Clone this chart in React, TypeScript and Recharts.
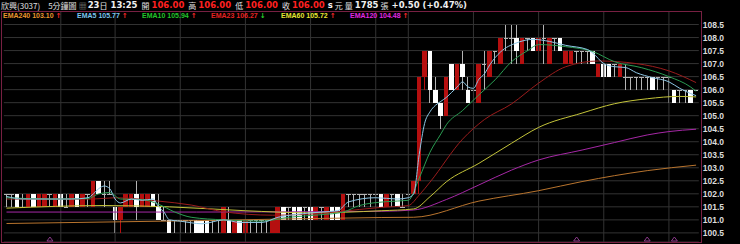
import React from "react";
import {
  ComposedChart,
  Bar,
  Line,
  XAxis,
  YAxis,
  CartesianGrid,
  ReferenceLine,
  ReferenceDot,
} from "recharts";

document.body.style.margin = "0";
document.body.style.background = "#000";

// 5-minute candles, oldest first (last part of day 1, day 2, day 3 up to 13:25)
const open = [
  102, 102, 102, 101.5, 101.5, 102, 101.5, 101.5, 102, 101.5,
  102, 101.5, 101.5, 102, 101.5, 102, 101.5, 102.5, 102, 102,
  101.5, 101, 101.5, 101.5, 102, 101.5, 101.5, 102, 101.5, 101,
  101, 101, 101, 101, 101, 101, 101, 101, 101, 101,
  100.5, 101, 100.5, 101, 100.5, 101, 101, 101, 101, 100.5,
  100.5, 101.5, 101.5, 101.5, 101.5, 101.5, 101.5, 101, 101.5, 101,
  101.5, 101.5, 101, 102, 102, 102, 102, 102, 102, 102,
  101.5, 102, 102, 101.5, 102, 102, 102.5, 106.5, 107.5, 106,
  105.5, 105, 107, 106, 107, 106, 106, 105.5, 107, 106.5,
  107.5, 107, 108, 108, 108, 107, 108, 108, 107.5, 108,
  107, 108, 108, 107, 107, 107.5, 107.5, 107.5, 107.5, 106.5,
  107, 107, 107, 106.5, 106.5, 106.5, 106.5, 106.5, 106.5, 106.5,
  106.5, 106.5, 106.5, 106, 106, 106, 106, 106,
];
const high = [
  102, 102, 102, 102, 102, 102, 102, 102, 102, 102,
  102, 102, 102, 102, 102, 102, 102.5, 102.5, 102.5, 102.5,
  101.5, 101.5, 102, 102, 102.5, 102, 102, 102, 102, 101.5,
  101, 101, 101, 101, 101, 101, 101, 101, 101, 101,
  101.5, 101.5, 101, 101, 101, 101, 101, 101, 101, 101,
  101.5, 101.5, 101.5, 101.5, 101.5, 101.5, 101.5, 101.5, 101.5, 101.5,
  101.5, 101.5, 102, 102, 102, 102, 102, 102, 102, 102,
  102, 102, 102, 102, 102.5, 102.5, 106.5, 107.5, 107.5, 106.5,
  105.5, 106.5, 107, 107, 107.5, 106.5, 106.5, 107, 107.5, 107.5,
  107.5, 108, 108.5, 108.5, 108.5, 108, 108, 108, 108, 108.5,
  108, 108, 108, 107.5, 107.5, 107.5, 107.5, 107.5, 107.5, 107,
  107, 107, 107, 107, 107, 106.5, 106.5, 106.5, 106.5, 106.5,
  106.5, 106.5, 106.5, 106, 106, 106, 106, 106,
];
const low = [
  101.5, 101.5, 101.5, 101.5, 101.5, 101.5, 101.5, 101.5, 101.5, 101.5,
  101.5, 101.5, 101.5, 101.5, 101.5, 101.5, 101.5, 102, 101.5, 102,
  100.5, 100.5, 101.5, 101.5, 101, 101.5, 101.5, 101.5, 101, 101,
  100.5, 100.5, 100.5, 100.5, 100.5, 100.5, 100.5, 100.5, 100.5, 100.5,
  100.5, 100.5, 100.5, 100.5, 100.5, 100.5, 100.5, 100.5, 100.5, 100.5,
  100.5, 101, 101, 101, 101, 101, 101, 101, 101, 101,
  101, 101, 101, 101.5, 101.5, 101.5, 101.5, 101.5, 101.5, 101.5,
  101.5, 101.5, 101.5, 101.5, 101.5, 102, 102, 106, 105.5, 105.5,
  104.5, 105, 106, 106, 106, 105.5, 105.5, 105.5, 106, 106.5,
  107, 107, 107.5, 107, 107, 107, 107.5, 107.5, 107.5, 107,
  107, 107.5, 107.5, 107, 107, 107, 107, 107, 107, 106.5,
  106.5, 106.5, 106.5, 106.5, 106, 106, 106, 106, 106, 106,
  106, 106, 105.5, 105.5, 105.5, 105.5, 105.5, 106,
];
const close = [
  102, 102, 101.5, 101.5, 102, 101.5, 102, 102, 102, 102,
  101.5, 101.5, 102, 101.5, 102, 102, 102.5, 102, 102, 102,
  101, 101.5, 102, 102, 101.5, 102, 102, 101.5, 101, 101,
  100.5, 101, 101, 101, 101, 100.5, 100.5, 100.5, 101, 101,
  101.5, 100.5, 101, 100.5, 101, 101, 101, 101, 101, 101,
  101.5, 101, 101.5, 101, 101, 101.5, 101, 101.5, 101.5, 101.5,
  101, 101, 102, 102, 102, 102, 102, 102, 102, 101.5,
  102, 102, 101.5, 101.5, 102, 102.5, 106.5, 107.5, 106, 105.5,
  105, 106.5, 106, 107, 106.5, 105.5, 106, 107, 107, 107.5,
  107.5, 108, 108, 108, 107.5, 108, 108, 107.5, 108, 108,
  108, 108, 107.5, 107.5, 107.5, 107.5, 107.5, 107.5, 107, 107,
  106.5, 106.5, 107, 107, 106.5, 106.5, 106.5, 106.5, 106.5, 106,
  106.5, 106.5, 106.5, 105.5, 106, 106, 105.5, 106,
];

// moving averages: [candle index, value]
const ema240: [number, number][] = [
  [0, 100.86], [35, 100.97], [69, 101.09], [75, 101.1], [87, 101.72],
  [98, 102.12], [106, 102.47], [118, 102.89], [127, 103.1],
];
const ema120: [number, number][] = [
  [0, 101.3], [35, 101.3], [69, 101.33], [75, 101.38], [81, 101.78],
  [87, 102.34], [93, 102.91], [98, 103.3], [106, 103.68], [112, 103.97],
  [118, 104.26], [122, 104.39], [127, 104.48],
];
const ema60: [number, number][] = [
  [0, 101.45], [18, 101.55], [30, 101.5], [44, 101.35], [56, 101.27],
  [69, 101.35], [75, 101.42], [78, 101.89], [81, 102.46], [87, 103.17],
  [93, 103.94], [98, 104.55], [106, 105.1], [112, 105.46], [118, 105.65],
  [124, 105.74], [127, 105.72],
];
const ema23: [number, number][] = [
  [0, 101.8], [16, 101.8], [20, 101.85], [28, 101.72], [34, 101.57],
  [40, 101.31], [49, 101.18], [58, 101.25], [65, 101.4], [69, 101.48],
  [74, 101.55], [76, 101.95], [78, 102.45], [84, 104.1], [88, 104.85],
  [93, 105.45], [98, 106.25], [103, 106.88], [109, 107.1], [116, 107.0],
  [122, 106.72], [127, 106.27],
];
const ema10: [number, number][] = [
  [0, 101.85], [8, 101.8], [15, 101.82], [17, 102.0], [19, 102.05],
  [21, 101.8], [25, 101.78], [28, 101.6], [31, 101.3], [34, 101.1],
  [40, 101.0], [47, 100.95], [52, 101.1], [58, 101.2], [62, 101.3],
  [65, 101.55], [70, 101.7], [74, 101.75], [76, 102.6], [78, 103.6],
  [80, 104.3], [81, 104.65], [84, 105.2], [87, 105.8], [90, 106.38],
  [93, 107.07], [96, 107.5], [98, 107.73], [103, 107.65], [108, 107.46],
  [112, 107.07], [117, 106.84], [122, 106.5], [126, 106.1], [127, 105.94],
];
const ema5: [number, number][] = [
  [0, 101.9], [3, 101.8], [6, 101.8], [9, 101.8], [12, 101.8],
  [15, 101.85], [16, 102.0], [17, 102.2], [18, 102.3], [19, 102.2],
  [20, 101.8], [21, 101.65], [23, 101.8], [25, 101.75], [27, 101.8],
  [28, 101.5], [29, 101.3], [30, 101.0], [32, 100.95], [36, 100.85],
  [40, 101.0], [43, 100.9], [47, 100.9], [50, 101.1], [53, 101.2],
  [58, 101.3], [61, 101.35], [63, 101.69], [68, 101.85], [72, 101.8],
  [74, 101.85], [75, 102.0], [76, 103.5], [77, 104.7], [78, 105.15],
  [79, 105.4], [80, 105.55], [81, 105.7], [82, 105.9], [83, 106.1],
  [84, 106.3], [85, 106.1], [86, 106.05], [87, 106.4], [88, 106.6],
  [89, 106.95], [91, 107.45], [94, 107.8], [97, 107.93], [100, 107.85],
  [103, 107.7], [107, 107.54], [108, 107.4], [110, 107.0], [112, 106.88],
  [114, 106.85], [116, 106.65], [119, 106.46], [122, 106.3], [124, 106.05],
  [126, 105.85], [127, 105.77],
];

// candles where the hour / session grid lines fall
const gridCandles = [10, 20, 32, 44, 56, 68, 74, 86, 98, 110, 122];
// little markers along the bottom edge
const markerCandles = [8, 105, 118, 123];
const priceTicks = [
  100.5, 101, 101.5, 102, 102.5, 103, 103.5, 104, 104.5, 105, 105.5, 106,
  106.5, 107, 107.5, 108, 108.5,
];

const legend = [
  { name: "EMA240", value: "103.10", color: "#e8962e", up: true, left: 3 },
  { name: "EMA5", value: "105.77", color: "#7cc4ee", up: true, left: 77 },
  { name: "EMA10", value: "105.94", color: "#22c42a", up: true, left: 142 },
  { name: "EMA23", value: "106.27", color: "#e52222", up: false, left: 211 },
  { name: "EMA60", value: "105.72", color: "#e6e632", up: true, left: 281 },
  { name: "EMA120", value: "104.48", color: "#e228e2", up: true, left: 350 },
];

const lineColors: Record<string, string> = {
  ema240: "#b8742e",
  ema120: "#a628a6",
  ema60: "#c4c43a",
  ema23: "#9a1c1c",
  ema10: "#2a9c52",
  ema5: "#8cc6e4",
};

const rows: any[] = open.map((o, i) => ({
  i,
  open: o,
  high: high[i],
  low: low[i],
  close: close[i],
  range: [low[i], high[i]],
}));
const emaSets: [string, [number, number][]][] = [
  ["ema240", ema240],
  ["ema120", ema120],
  ["ema60", ema60],
  ["ema23", ema23],
  ["ema10", ema10],
  ["ema5", ema5],
];
emaSets.forEach(([key, pts]) => pts.forEach(([i, v]) => (rows[i][key] = v)));

const RED = "#b50f0f";
const WHITE = "#ffffff";
const GREY = "#b4b4b4";

const Candle = (props: any) => {
  const { x, y, width, height, payload } = props;
  if (x == null || !payload) return null;
  const { open: o, close: c, high: h, low: l } = payload;
  const top = Math.min(y, y + height);
  const span = Math.abs(height);
  const k = h > l ? span / (h - l) : 0;
  const py = (v: number) => top + (h - v) * k;
  const mid = x + width / 2;
  const cx = Math.floor(mid) + 0.5;
  const bw = 4.6;
  const up = c > o;
  const down = c < o;
  const yTop = py(Math.max(o, c));
  const yBot = py(Math.min(o, c));
  const wick = up ? RED : GREY;
  return (
    <g shapeRendering="crispEdges">
      <line x1={cx} x2={cx} y1={top} y2={top + span} stroke={wick} />
      {up || down ? (
        <rect
          x={mid - bw / 2}
          y={yTop}
          width={bw}
          height={Math.max(1, yBot - yTop)}
          fill={up ? RED : WHITE}
        />
      ) : (
        <line
          x1={mid - bw / 2}
          x2={mid + bw / 2}
          y1={Math.round(yTop) + 0.5}
          y2={Math.round(yTop) + 0.5}
          stroke={GREY}
        />
      )}
    </g>
  );
};

const Marker = (props: any) => {
  const { cx, cy } = props;
  if (cx == null) return null;
  return (
    <polygon
      points={`${cx - 3},${cy - 1} ${cx},${cy - 5} ${cx + 3},${cy - 1}`}
      fill="none"
      stroke="#8a3a8a"
      strokeWidth={1}
    />
  );
};

const cjk = '"Noto Sans CJK TC", sans-serif';
const num = '"DejaVu Sans", sans-serif';

const Header = () => {
  const r = { color: "#ff2020", fontFamily: num, fontWeight: 700, fontSize: 8.5 };
  const b = { color: "#f0f0f0", fontFamily: num, fontWeight: 700, fontSize: 8.5 };
  return (
    <div
      style={{
        position: "absolute",
        left: 1,
        top: 0,
        height: 11,
        display: "flex",
        alignItems: "center",
        whiteSpace: "nowrap",
        fontFamily: cjk,
        fontSize: 8,
        lineHeight: "11px",
        color: "#e0e0e0",
      }}
    >
      <span>欣興(3037)</span>
      <span style={{ marginLeft: 8 }}>5分鐘圖</span>
      <span style={{ marginLeft: 2, color: "#9a9a9a" }}>▦</span>
      <span style={{ ...b, marginLeft: 1 }}>23</span>
      <span>日</span>
      <span style={{ ...b, marginLeft: 3 }}>13:25</span>
      <span style={{ marginLeft: 4 }}>開</span>
      <span style={{ ...r, marginLeft: 2 }}>106.00</span>
      <span style={{ marginLeft: 4 }}>高</span>
      <span style={{ ...r, marginLeft: 2 }}>106.00</span>
      <span style={{ marginLeft: 4 }}>低</span>
      <span style={{ ...r, marginLeft: 2 }}>106.00</span>
      <span style={{ marginLeft: 4 }}>收</span>
      <span style={{ ...r, marginLeft: 2 }}>106.00</span>
      <span style={{ ...b, marginLeft: 3 }}>s</span>
      <span style={{ marginLeft: 2 }}>元</span>
      <span style={{ marginLeft: 2 }}>量</span>
      <span style={{ ...b, marginLeft: 2 }}>1785</span>
      <span style={{ marginLeft: 2 }}>張</span>
      <span style={{ ...b, marginLeft: 3 }}>+0.50 (+0.47%)</span>
    </div>
  );
};

export default function App() {
  return (
    <div style={{ position: "relative", width: 740, height: 244, background: "#000", overflow: "hidden" }}>
      <Header />
      <ComposedChart
        width={740}
        height={244}
        data={rows}
        margin={{ top: 11.5, right: 0, left: 3.8, bottom: 2 }}
        barCategoryGap={0}
      >
        <CartesianGrid stroke="#333333" vertical={false} />
        <XAxis dataKey="i" type="category" hide />
        <YAxis
          orientation="right"
          width={41.2}
          domain={[100.15, 109.0]}
          ticks={priceTicks}
          interval={0}
          allowDataOverflow
          axisLine={false}
          tickLine={false}
          tickSize={0}
          tickMargin={4}
          tickFormatter={(v: number) => v.toFixed(1)}
          tick={{ fill: "#dcdcdc", fontSize: 8.5, fontWeight: 700, fontFamily: '"Liberation Sans", sans-serif', textAnchor: "start" }}
        />
        {gridCandles.map((g) => (
          <ReferenceLine key={g} x={g} stroke="#333333" />
        ))}
        <Bar dataKey="range" shape={<Candle />} isAnimationActive={false} />
        {emaSets.map(([key]) => (
          <Line
            key={key}
            dataKey={key}
            type="monotone"
            stroke={lineColors[key]}
            strokeWidth={1}
            dot={false}
            connectNulls
            isAnimationActive={false}
          />
        ))}
        {markerCandles.map((m) => (
          <ReferenceDot key={m} x={m} y={100.15} r={3} shape={<Marker />} />
        ))}
      </ComposedChart>
      <div
        style={{
          position: "absolute",
          left: 1,
          top: 11,
          width: 699,
          height: 230,
          border: "1px solid #782042",
          pointerEvents: "none",
        }}
      />
      {legend.map((l) => (
        <div
          key={l.name}
          style={{
            position: "absolute",
            left: l.left,
            top: 12,
            fontFamily: '"Liberation Sans", sans-serif',
            fontWeight: 700,
            fontSize: 7,
            lineHeight: "8px",
            color: l.color,
            whiteSpace: "nowrap",
          }}
        >
          {l.name} {l.value}
          <span style={{ color: l.up ? "#ff2a2a" : "#2ad42a", marginLeft: 2, fontFamily: num }}>
            {l.up ? "↑" : "↓"}
          </span>
        </div>
      ))}
    </div>
  );
}
